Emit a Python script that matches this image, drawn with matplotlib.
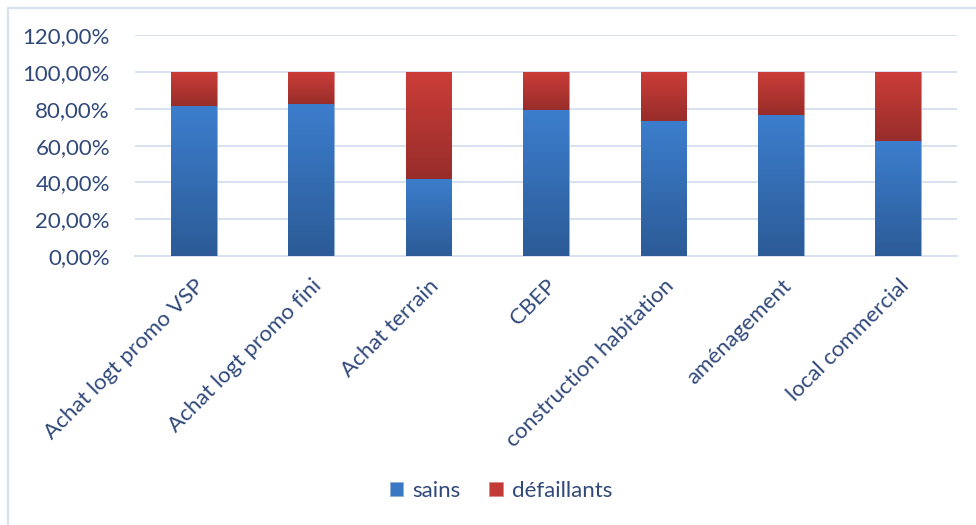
import matplotlib
matplotlib.use("Agg")
import matplotlib.pyplot as plt
import numpy as np
from matplotlib.colors import LinearSegmentedColormap
from matplotlib.ticker import FuncFormatter

categories = ["Achat logt promo VSP", "Achat logt promo fini", "Achat terrain", "CBEP",
              "construction habitation", "aménagement", "local commercial"]
sains = [0.815, 0.828, 0.420, 0.792, 0.732, 0.766, 0.623]
defaillants = [1 - v for v in sains]
yticks = [0, 0.2, 0.4, 0.6, 0.8, 1.0, 1.2]

text_color = "#30497A"
font = "Lato"
fs = 16

fig = plt.figure(figsize=(9.76, 5.25), dpi=100)
fig.patch.set_facecolor("white")
W, H = 976, 525
ax = fig.add_axes([135 / W, 1 - 256 / H, (957 - 135) / W, (256 - 35.2) / H])

x = np.arange(len(categories))
bw = 0.39
b1 = ax.bar(x, sains, width=bw, color="#3A78C4", zorder=3, edgecolor="#8FB0DA", linewidth=0.6)
b2 = ax.bar(x, defaillants, bottom=sains, width=bw, color="#C23B36", zorder=3, edgecolor="#D98A86", linewidth=0.6)

blue_cm = LinearSegmentedColormap.from_list("b", ["#2C5B97", "#3C7ECD"])
red_cm = LinearSegmentedColormap.from_list("r", ["#972D2A", "#CC3D38"])
grad = np.linspace(0, 1, 256).reshape(-1, 1)
for bars, cm in ((b1, blue_cm), (b2, red_cm)):
    for p in bars:
        x0, y0 = p.get_x(), p.get_y()
        w, h = p.get_width(), p.get_height()
        im = ax.imshow(grad, cmap=cm, origin="lower", aspect="auto",
                       extent=[x0, x0 + w, y0, y0 + h], zorder=3.5)
        im.set_clip_path(p)

ax.set_xlim(-0.5, len(categories) - 0.5)
ax.set_ylim(0, 1.2)
ax.set_yticks(yticks)
ax.yaxis.set_major_formatter(FuncFormatter(lambda v, _: f"{v*100:.2f}".replace(".", ",") + "%"))
ax.grid(axis="y", color="#D6E1EF", linewidth=1.4, zorder=0)
ax.set_axisbelow(True)
for s in ("top", "right", "left"):
    ax.spines[s].set_visible(False)
ax.spines["bottom"].set_color("#D6E1EF")
ax.spines["bottom"].set_linewidth(1.4)
ax.tick_params(axis="both", length=0, colors=text_color)
ax.tick_params(axis="y", pad=18)
for t in ax.get_yticklabels():
    t.set_fontsize(fs)
    t.set_family(font)
    t.set_color(text_color)

ax.set_xticks(x)
ax.set_xticklabels(categories, rotation=45, ha="right", va="top", rotation_mode="anchor",
                   fontsize=fs, family=font, color=text_color)
ax.tick_params(axis="x", pad=14)

leg = fig.legend([b1, b2], ["sains", "défaillants"], loc="center", bbox_to_anchor=(501 / W, 1 - 491 / H),
                 ncol=2, frameon=False, handlelength=0.6, handleheight=0.6, handletextpad=0.4,
                 columnspacing=1.3, prop={"family": font, "size": fs})
for t in leg.get_texts():
    t.set_color(text_color)

# outer frame lines (top and left)
fig.add_artist(plt.Line2D([8 / W, 1], [1 - 8 / H, 1 - 8 / H], color="#D6E1EF", linewidth=1.5, transform=fig.transFigure))
fig.add_artist(plt.Line2D([8 / W, 8 / W], [0, 1 - 8 / H], color="#D6E1EF", linewidth=1.5, transform=fig.transFigure))

fig.savefig("out.png", dpi=100, facecolor="white")
